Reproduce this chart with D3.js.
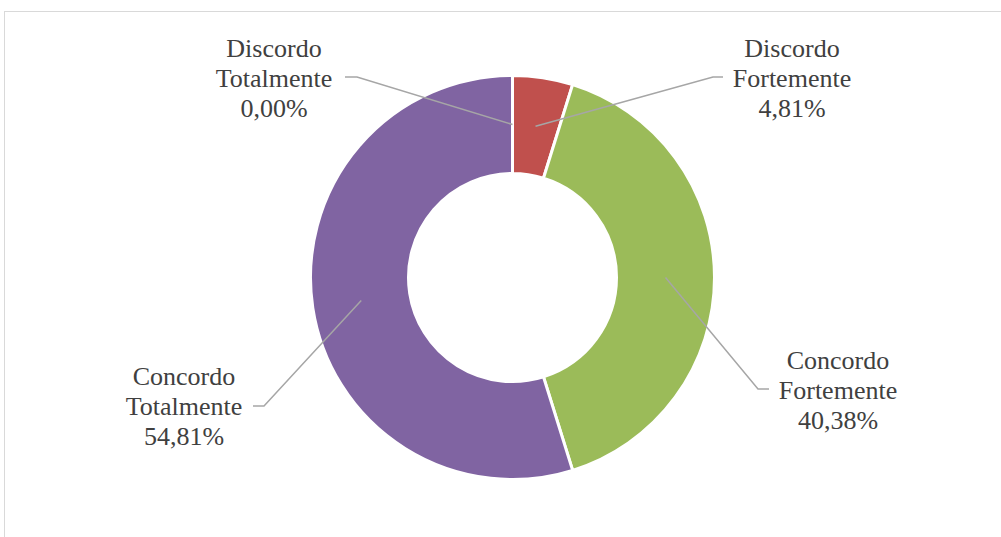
<!DOCTYPE html>
<html>
<head>
<meta charset="utf-8">
<script src="https://cdn.jsdelivr.net/npm/d3@7"></script>
<style>
  body { margin: 0; background: #fff; }
  svg { display: block; }
</style>
</head>
<body>
<div id="container"></div>
<script>
// Data
const categories = ['Discordo Totalmente', 'Discordo Fortemente', 'Concordo Fortemente', 'Concordo Totalmente'];
const values = [0.00, 4.81, 40.38, 54.81];
const labelLines = [
    ['Discordo', 'Totalmente'],
    ['Discordo', 'Fortemente'],
    ['Concordo', 'Fortemente'],
    ['Concordo', 'Totalmente']
];
const colors = ['#4f81bd', '#c0504d', '#9bbb59', '#8064a2'];

// Label layout (text centre / first baseline, leader elbow and end)
const labelLayout = [
    { x: 274, y: 57, elbow: [357, 77], end: [345, 77] },
    { x: 792, y: 57, elbow: [713, 77], end: [723, 77] },
    { x: 838, y: 369, elbow: [758, 389], end: [769, 389] },
    { x: 184, y: 385, elbow: [264, 406], end: [253, 406] }
];

const width = 1001;
const height = 537;
const cx = 512.5, cy = 277.5;
const outerR = 202, innerR = 104;

const svg = d3.select('#container').append('svg')
    .attr('width', width)
    .attr('height', height);

// Chart border (runs off the right and bottom edge)
svg.append('rect')
    .attr('x', 4.5)
    .attr('y', 11.5)
    .attr('width', 1010)
    .attr('height', 540)
    .attr('fill', 'none')
    .attr('stroke', '#d9d9d9')
    .attr('stroke-width', 1);

const pie = d3.pie().sort(null).value(d => d);
const arcs = pie(values);

const arc = d3.arc().innerRadius(innerR).outerRadius(outerR);
const midArc = d3.arc().innerRadius((innerR + outerR) / 2).outerRadius((innerR + outerR) / 2);

const g = svg.append('g').attr('transform', `translate(${cx},${cy})`);

g.selectAll('path')
    .data(arcs)
    .enter().append('path')
    .attr('d', arc)
    .attr('fill', (d, i) => colors[i])
    .attr('stroke', '#fff')
    .attr('stroke-width', 3)
    .attr('stroke-linejoin', 'miter');

// Leader lines
svg.append('g')
    .selectAll('polyline')
    .data(arcs)
    .enter().append('polyline')
    .attr('points', (d, i) => {
        const [mx, my] = midArc.centroid(d);
        const l = labelLayout[i];
        return [[cx + mx, cy + my], l.elbow, l.end].map(p => p.join(',')).join(' ');
    })
    .attr('fill', 'none')
    .attr('stroke', '#a6a6a6')
    .attr('stroke-width', 1.5);

// Labels
const fmt = v => v.toFixed(2).replace('.', ',') + '%';
const labels = svg.append('g')
    .selectAll('text')
    .data(arcs)
    .enter().append('text')
    .attr('text-anchor', 'middle')
    .attr('font-family', '"Liberation Serif", "Times New Roman", serif')
    .attr('font-size', 26)
    .attr('fill', '#404040');

labels.each(function (d, i) {
    const t = d3.select(this);
    const l = labelLayout[i];
    const lines = labelLines[i].concat([fmt(values[i])]);
    lines.forEach((s, k) => {
        t.append('tspan')
            .attr('x', l.x)
            .attr('y', l.y + k * 30)
            .text(s);
    });
});
</script>
</body>
</html>
